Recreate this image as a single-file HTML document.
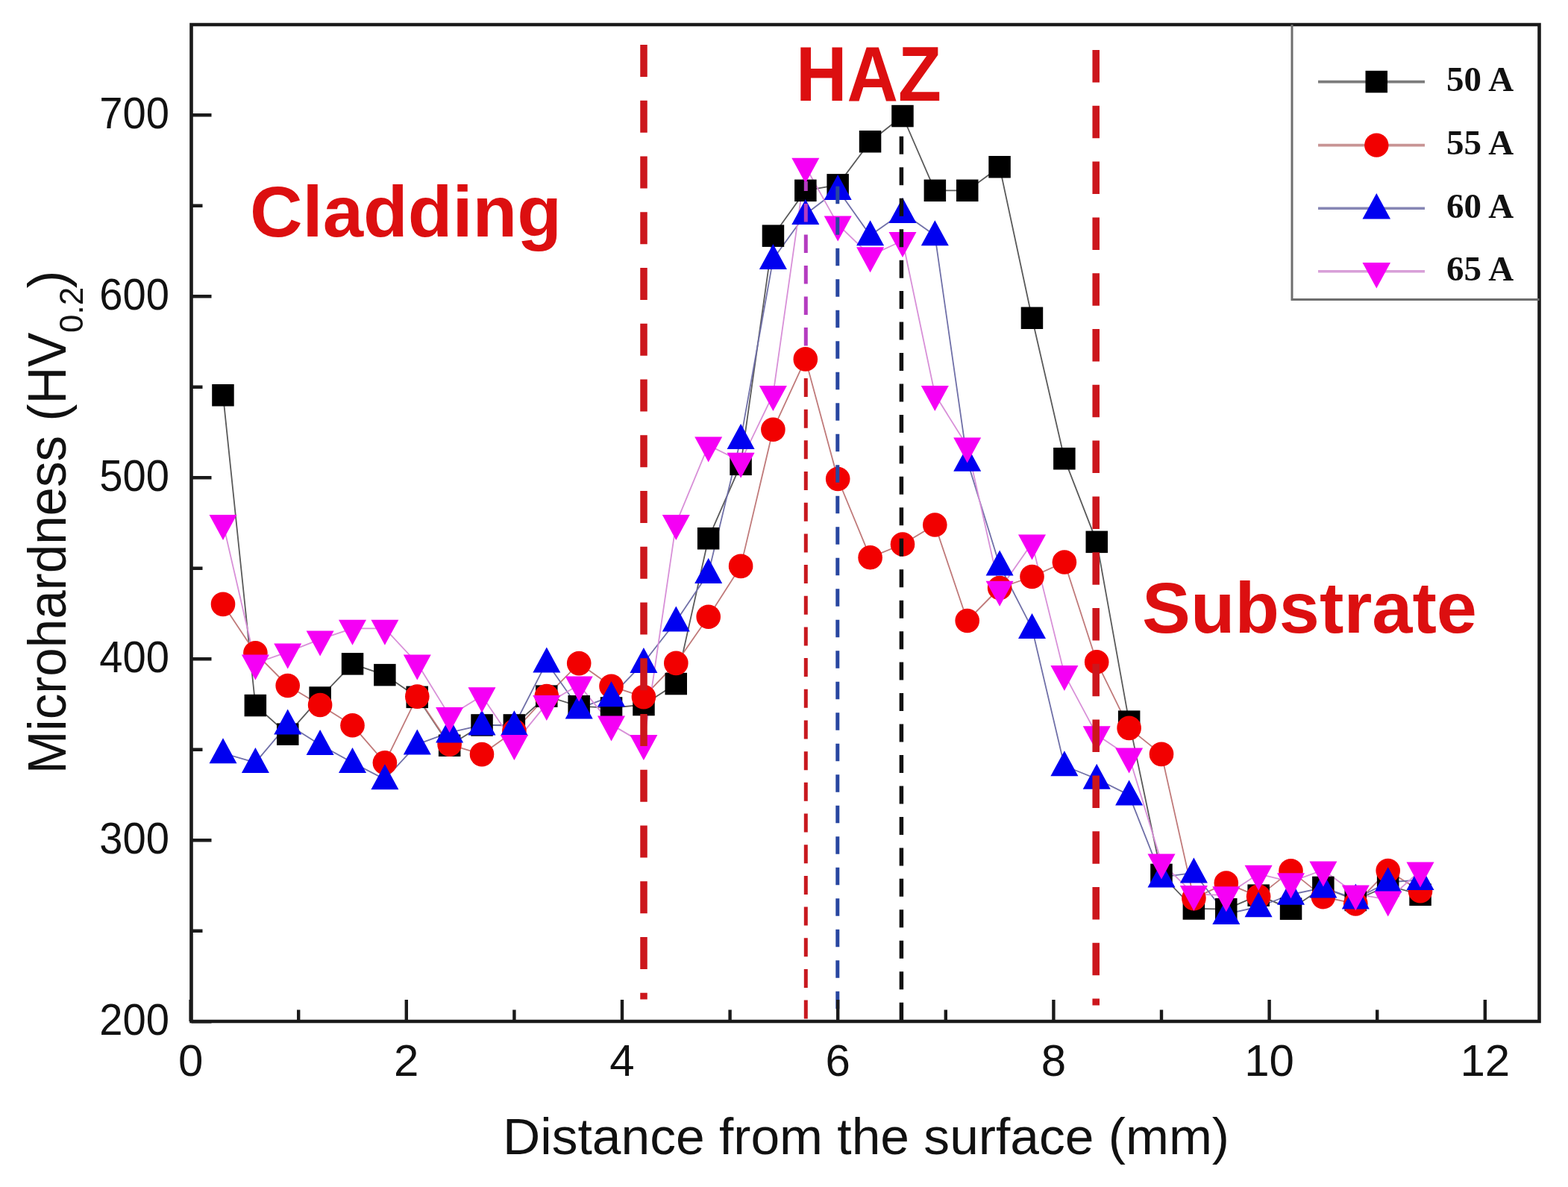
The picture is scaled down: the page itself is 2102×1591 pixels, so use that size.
<!DOCTYPE html>
<html><head><meta charset="utf-8"><title>Microhardness profile</title>
<style>
html,body{margin:0;padding:0;background:#fff;}
body{width:2102px;height:1591px;overflow:hidden;}
svg{display:block;}
.tk{font-family:"Liberation Sans",Arial,sans-serif;font-size:60px;fill:#111;}
.ti{font-family:"Liberation Sans",Arial,sans-serif;fill:#111;}
.lg{font-family:"Liberation Serif","Times New Roman",serif;font-weight:bold;font-size:47px;fill:#111;}
.zn{font-family:"Liberation Sans",Arial,sans-serif;font-weight:bold;fill:#dc0f10;}
</style></head><body>
<svg width="2102" height="1591" viewBox="0 0 2102 1591">
<rect width="2102" height="1591" fill="#fff"/>

<text class="zn" x="335" y="316.5" font-size="97" textLength="418" lengthAdjust="spacingAndGlyphs">Cladding</text>
<text class="zn" x="1067" y="135" font-size="104" textLength="195" lengthAdjust="spacingAndGlyphs">HAZ</text>
<text class="zn" x="1531" y="848" font-size="96" textLength="449" lengthAdjust="spacingAndGlyphs">Substrate</text>
<polyline points="299.0,529.7 342.4,945.5 385.7,984.1 429.1,935.1 472.5,889.9 515.9,904.7 559.3,934.3 602.6,999.2 646.0,972.0 689.4,972.0 732.8,933.1 776.2,946.7 819.5,948.9 862.9,944.5 906.3,916.6 949.7,721.7 993.1,622.3 1036.4,316.1 1079.8,255.4 1123.2,247.9 1166.6,189.8 1210.0,155.5 1253.3,255.4 1296.7,255.4 1340.1,223.8 1383.5,426.2 1426.9,614.8 1470.2,726.3 1513.6,967.1 1557.0,1172.5 1600.4,1217.9 1643.8,1218.6 1687.1,1200.2 1730.5,1218.2 1773.9,1189.5 1817.3,1206.5 1860.7,1187.0 1904.0,1199.2" fill="none" stroke="#5a5a5a" stroke-width="1.8" stroke-linejoin="round"/>
<polyline points="299.0,809.9 342.4,875.3 385.7,919.0 429.1,945.0 472.5,972.2 515.9,1022.3 559.3,933.6 602.6,997.8 646.0,1011.1 689.4,980.0 732.8,933.1 776.2,889.1 819.5,919.8 862.9,934.1 906.3,888.9 949.7,826.7 993.1,758.9 1036.4,575.7 1079.8,481.4 1123.2,642.0 1166.6,747.2 1210.0,729.5 1253.3,703.5 1296.7,832.0 1340.1,788.0 1383.5,773.0 1426.9,753.5 1470.2,887.2 1513.6,975.9 1557.0,1010.9 1600.4,1204.1 1643.8,1183.6 1687.1,1201.6 1730.5,1167.4 1773.9,1202.1 1817.3,1211.4 1860.7,1167.1 1904.0,1194.3" fill="none" stroke="#c07a7a" stroke-width="1.8" stroke-linejoin="round"/>
<polyline points="299.0,1009.5 342.4,1022.1 385.7,970.8 429.1,998.3 472.5,1022.1 515.9,1044.5 559.3,997.6 602.6,981.8 646.0,971.8 689.4,972.5 732.8,887.7 776.2,949.7 819.5,933.4 862.9,888.2 906.3,832.8 949.7,768.2 993.1,588.3 1036.4,347.3 1079.8,287.3 1123.2,254.2 1166.6,315.4 1210.0,285.1 1253.3,315.4 1296.7,618.0 1340.1,757.7 1383.5,842.3 1426.9,1026.5 1470.2,1044.0 1513.6,1065.6 1557.0,1175.7 1600.4,1169.8 1643.8,1225.2 1687.1,1215.5 1730.5,1199.0 1773.9,1189.8 1817.3,1204.8 1860.7,1182.5 1904.0,1179.3" fill="none" stroke="#7070a8" stroke-width="1.8" stroke-linejoin="round"/>
<polyline points="299.0,701.4 342.4,889.0 385.7,873.9 429.1,856.9 472.5,842.3 515.9,842.3 559.3,889.0 602.6,959.4 646.0,932.7 689.4,996.6 732.8,943.4 776.2,917.9 819.5,971.1 862.9,996.6 906.3,701.6 949.7,596.9 993.1,618.3 1036.4,528.6 1079.8,223.2 1123.2,300.9 1166.6,342.7 1210.0,322.5 1253.3,528.6 1296.7,598.1 1340.1,790.3 1383.5,728.1 1426.9,903.6 1470.2,984.7 1513.6,1014.1 1557.0,1156.0 1600.4,1198.6 1643.8,1199.8 1687.1,1171.3 1730.5,1181.8 1773.9,1166.0 1817.3,1198.1 1860.7,1205.9 1904.0,1167.0" fill="none" stroke="#d890d8" stroke-width="1.8" stroke-linejoin="round"/>
<g><rect x="284.2" y="515.0" width="29.5" height="29.5" fill="#000000"/><rect x="327.6" y="930.8" width="29.5" height="29.5" fill="#000000"/><rect x="371.0" y="969.4" width="29.5" height="29.5" fill="#000000"/><rect x="414.4" y="920.3" width="29.5" height="29.5" fill="#000000"/><rect x="457.8" y="875.1" width="29.5" height="29.5" fill="#000000"/><rect x="501.1" y="889.9" width="29.5" height="29.5" fill="#000000"/><rect x="544.5" y="919.6" width="29.5" height="29.5" fill="#000000"/><rect x="587.9" y="984.5" width="29.5" height="29.5" fill="#000000"/><rect x="631.3" y="957.2" width="29.5" height="29.5" fill="#000000"/><rect x="674.6" y="957.2" width="29.5" height="29.5" fill="#000000"/><rect x="718.0" y="918.4" width="29.5" height="29.5" fill="#000000"/><rect x="761.4" y="932.0" width="29.5" height="29.5" fill="#000000"/><rect x="804.8" y="934.2" width="29.5" height="29.5" fill="#000000"/><rect x="848.2" y="929.8" width="29.5" height="29.5" fill="#000000"/><rect x="891.5" y="901.8" width="29.5" height="29.5" fill="#000000"/><rect x="934.9" y="707.0" width="29.5" height="29.5" fill="#000000"/><rect x="978.3" y="607.6" width="29.5" height="29.5" fill="#000000"/><rect x="1021.7" y="301.4" width="29.5" height="29.5" fill="#000000"/><rect x="1065.1" y="240.6" width="29.5" height="29.5" fill="#000000"/><rect x="1108.4" y="233.1" width="29.5" height="29.5" fill="#000000"/><rect x="1151.8" y="175.0" width="29.5" height="29.5" fill="#000000"/><rect x="1195.2" y="140.8" width="29.5" height="29.5" fill="#000000"/><rect x="1238.6" y="240.6" width="29.5" height="29.5" fill="#000000"/><rect x="1282.0" y="240.6" width="29.5" height="29.5" fill="#000000"/><rect x="1325.3" y="209.0" width="29.5" height="29.5" fill="#000000"/><rect x="1368.7" y="411.5" width="29.5" height="29.5" fill="#000000"/><rect x="1412.1" y="600.0" width="29.5" height="29.5" fill="#000000"/><rect x="1455.5" y="711.6" width="29.5" height="29.5" fill="#000000"/><rect x="1498.9" y="952.4" width="29.5" height="29.5" fill="#000000"/><rect x="1542.2" y="1157.7" width="29.5" height="29.5" fill="#000000"/><rect x="1585.6" y="1203.2" width="29.5" height="29.5" fill="#000000"/><rect x="1629.0" y="1203.9" width="29.5" height="29.5" fill="#000000"/><rect x="1672.4" y="1185.4" width="29.5" height="29.5" fill="#000000"/><rect x="1715.8" y="1203.4" width="29.5" height="29.5" fill="#000000"/><rect x="1759.1" y="1174.7" width="29.5" height="29.5" fill="#000000"/><rect x="1802.5" y="1191.7" width="29.5" height="29.5" fill="#000000"/><rect x="1845.9" y="1172.3" width="29.5" height="29.5" fill="#000000"/><rect x="1889.3" y="1184.5" width="29.5" height="29.5" fill="#000000"/></g>
<g><circle cx="299.0" cy="809.9" r="16.3" fill="#f20000"/><circle cx="342.4" cy="875.3" r="16.3" fill="#f20000"/><circle cx="385.7" cy="919.0" r="16.3" fill="#f20000"/><circle cx="429.1" cy="945.0" r="16.3" fill="#f20000"/><circle cx="472.5" cy="972.2" r="16.3" fill="#f20000"/><circle cx="515.9" cy="1022.3" r="16.3" fill="#f20000"/><circle cx="559.3" cy="933.6" r="16.3" fill="#f20000"/><circle cx="602.6" cy="997.8" r="16.3" fill="#f20000"/><circle cx="646.0" cy="1011.1" r="16.3" fill="#f20000"/><circle cx="689.4" cy="980.0" r="16.3" fill="#f20000"/><circle cx="732.8" cy="933.1" r="16.3" fill="#f20000"/><circle cx="776.2" cy="889.1" r="16.3" fill="#f20000"/><circle cx="819.5" cy="919.8" r="16.3" fill="#f20000"/><circle cx="862.9" cy="934.1" r="16.3" fill="#f20000"/><circle cx="906.3" cy="888.9" r="16.3" fill="#f20000"/><circle cx="949.7" cy="826.7" r="16.3" fill="#f20000"/><circle cx="993.1" cy="758.9" r="16.3" fill="#f20000"/><circle cx="1036.4" cy="575.7" r="16.3" fill="#f20000"/><circle cx="1079.8" cy="481.4" r="16.3" fill="#f20000"/><circle cx="1123.2" cy="642.0" r="16.3" fill="#f20000"/><circle cx="1166.6" cy="747.2" r="16.3" fill="#f20000"/><circle cx="1210.0" cy="729.5" r="16.3" fill="#f20000"/><circle cx="1253.3" cy="703.5" r="16.3" fill="#f20000"/><circle cx="1296.7" cy="832.0" r="16.3" fill="#f20000"/><circle cx="1340.1" cy="788.0" r="16.3" fill="#f20000"/><circle cx="1383.5" cy="773.0" r="16.3" fill="#f20000"/><circle cx="1426.9" cy="753.5" r="16.3" fill="#f20000"/><circle cx="1470.2" cy="887.2" r="16.3" fill="#f20000"/><circle cx="1513.6" cy="975.9" r="16.3" fill="#f20000"/><circle cx="1557.0" cy="1010.9" r="16.3" fill="#f20000"/><circle cx="1600.4" cy="1204.1" r="16.3" fill="#f20000"/><circle cx="1643.8" cy="1183.6" r="16.3" fill="#f20000"/><circle cx="1687.1" cy="1201.6" r="16.3" fill="#f20000"/><circle cx="1730.5" cy="1167.4" r="16.3" fill="#f20000"/><circle cx="1773.9" cy="1202.1" r="16.3" fill="#f20000"/><circle cx="1817.3" cy="1211.4" r="16.3" fill="#f20000"/><circle cx="1860.7" cy="1167.1" r="16.3" fill="#f20000"/><circle cx="1904.0" cy="1194.3" r="16.3" fill="#f20000"/></g>
<g><path d="M299.0 989.3L317.5 1023.3H280.5Z" fill="#0000f0"/><path d="M342.4 1001.9L360.9 1035.9H323.9Z" fill="#0000f0"/><path d="M385.7 950.6L404.2 984.6H367.2Z" fill="#0000f0"/><path d="M429.1 978.1L447.6 1012.1H410.6Z" fill="#0000f0"/><path d="M472.5 1001.9L491.0 1035.9H454.0Z" fill="#0000f0"/><path d="M515.9 1024.2L534.4 1058.2H497.4Z" fill="#0000f0"/><path d="M559.3 977.4L577.8 1011.4H540.8Z" fill="#0000f0"/><path d="M602.6 961.6L621.1 995.6H584.1Z" fill="#0000f0"/><path d="M646.0 951.6L664.5 985.6H627.5Z" fill="#0000f0"/><path d="M689.4 952.3L707.9 986.3H670.9Z" fill="#0000f0"/><path d="M732.8 867.5L751.3 901.5H714.3Z" fill="#0000f0"/><path d="M776.2 929.5L794.7 963.5H757.7Z" fill="#0000f0"/><path d="M819.5 913.2L838.0 947.2H801.0Z" fill="#0000f0"/><path d="M862.9 868.0L881.4 902.0H844.4Z" fill="#0000f0"/><path d="M906.3 812.6L924.8 846.6H887.8Z" fill="#0000f0"/><path d="M949.7 748.0L968.2 782.0H931.2Z" fill="#0000f0"/><path d="M993.1 568.1L1011.6 602.1H974.6Z" fill="#0000f0"/><path d="M1036.4 327.1L1054.9 361.1H1017.9Z" fill="#0000f0"/><path d="M1079.8 267.1L1098.3 301.1H1061.3Z" fill="#0000f0"/><path d="M1123.2 234.0L1141.7 268.0H1104.7Z" fill="#0000f0"/><path d="M1166.6 295.2L1185.1 329.2H1148.1Z" fill="#0000f0"/><path d="M1210.0 264.9L1228.5 298.9H1191.5Z" fill="#0000f0"/><path d="M1253.3 295.2L1271.8 329.2H1234.8Z" fill="#0000f0"/><path d="M1296.7 597.8L1315.2 631.8H1278.2Z" fill="#0000f0"/><path d="M1340.1 737.5L1358.6 771.5H1321.6Z" fill="#0000f0"/><path d="M1383.5 822.1L1402.0 856.1H1365.0Z" fill="#0000f0"/><path d="M1426.9 1006.3L1445.4 1040.3H1408.4Z" fill="#0000f0"/><path d="M1470.2 1023.8L1488.7 1057.8H1451.7Z" fill="#0000f0"/><path d="M1513.6 1045.4L1532.1 1079.4H1495.1Z" fill="#0000f0"/><path d="M1557.0 1155.5L1575.5 1189.5H1538.5Z" fill="#0000f0"/><path d="M1600.4 1149.6L1618.9 1183.6H1581.9Z" fill="#0000f0"/><path d="M1643.8 1205.0L1662.3 1239.0H1625.3Z" fill="#0000f0"/><path d="M1687.1 1195.3L1705.6 1229.3H1668.6Z" fill="#0000f0"/><path d="M1730.5 1178.8L1749.0 1212.8H1712.0Z" fill="#0000f0"/><path d="M1773.9 1169.6L1792.4 1203.6H1755.4Z" fill="#0000f0"/><path d="M1817.3 1184.6L1835.8 1218.6H1798.8Z" fill="#0000f0"/><path d="M1860.7 1162.3L1879.2 1196.3H1842.2Z" fill="#0000f0"/><path d="M1904.0 1159.1L1922.5 1193.1H1885.5Z" fill="#0000f0"/></g>
<g><path d="M280.5 689.9H317.5L299.0 723.9Z" fill="#f500f5"/><path d="M323.9 877.5H360.9L342.4 911.5Z" fill="#f500f5"/><path d="M367.2 862.4H404.2L385.7 896.4Z" fill="#f500f5"/><path d="M410.6 845.4H447.6L429.1 879.4Z" fill="#f500f5"/><path d="M454.0 830.8H491.0L472.5 864.8Z" fill="#f500f5"/><path d="M497.4 830.8H534.4L515.9 864.8Z" fill="#f500f5"/><path d="M540.8 877.5H577.8L559.3 911.5Z" fill="#f500f5"/><path d="M584.1 947.9H621.1L602.6 981.9Z" fill="#f500f5"/><path d="M627.5 921.2H664.5L646.0 955.2Z" fill="#f500f5"/><path d="M670.9 985.1H707.9L689.4 1019.1Z" fill="#f500f5"/><path d="M714.3 931.9H751.3L732.8 965.9Z" fill="#f500f5"/><path d="M757.7 906.4H794.7L776.2 940.4Z" fill="#f500f5"/><path d="M801.0 959.6H838.0L819.5 993.6Z" fill="#f500f5"/><path d="M844.4 985.1H881.4L862.9 1019.1Z" fill="#f500f5"/><path d="M887.8 690.1H924.8L906.3 724.1Z" fill="#f500f5"/><path d="M931.2 585.4H968.2L949.7 619.4Z" fill="#f500f5"/><path d="M974.6 606.8H1011.6L993.1 640.8Z" fill="#f500f5"/><path d="M1017.9 517.1H1054.9L1036.4 551.1Z" fill="#f500f5"/><path d="M1061.3 211.7H1098.3L1079.8 245.7Z" fill="#f500f5"/><path d="M1104.7 289.4H1141.7L1123.2 323.4Z" fill="#f500f5"/><path d="M1148.1 331.2H1185.1L1166.6 365.2Z" fill="#f500f5"/><path d="M1191.5 311.0H1228.5L1210.0 345.0Z" fill="#f500f5"/><path d="M1234.8 517.1H1271.8L1253.3 551.1Z" fill="#f500f5"/><path d="M1278.2 586.6H1315.2L1296.7 620.6Z" fill="#f500f5"/><path d="M1321.6 778.8H1358.6L1340.1 812.8Z" fill="#f500f5"/><path d="M1365.0 716.6H1402.0L1383.5 750.6Z" fill="#f500f5"/><path d="M1408.4 892.1H1445.4L1426.9 926.1Z" fill="#f500f5"/><path d="M1451.7 973.2H1488.7L1470.2 1007.2Z" fill="#f500f5"/><path d="M1495.1 1002.6H1532.1L1513.6 1036.6Z" fill="#f500f5"/><path d="M1538.5 1144.5H1575.5L1557.0 1178.5Z" fill="#f500f5"/><path d="M1581.9 1187.1H1618.9L1600.4 1221.1Z" fill="#f500f5"/><path d="M1625.3 1188.3H1662.3L1643.8 1222.3Z" fill="#f500f5"/><path d="M1668.6 1159.8H1705.6L1687.1 1193.8Z" fill="#f500f5"/><path d="M1712.0 1170.3H1749.0L1730.5 1204.3Z" fill="#f500f5"/><path d="M1755.4 1154.5H1792.4L1773.9 1188.5Z" fill="#f500f5"/><path d="M1798.8 1186.6H1835.8L1817.3 1220.6Z" fill="#f500f5"/><path d="M1842.2 1194.4H1879.2L1860.7 1228.4Z" fill="#f500f5"/><path d="M1885.5 1155.5H1922.5L1904.0 1189.5Z" fill="#f500f5"/></g>
<line x1="863.0" y1="60" x2="863.0" y2="1339.5" stroke="#cc161c" stroke-width="9.5" stroke-dasharray="43 31.75" stroke-dashoffset="0"/>
<line x1="1469.2" y1="67" x2="1469.2" y2="1347.5" stroke="#cc161c" stroke-width="9.5" stroke-dasharray="43.5 31.3" stroke-dashoffset="0"/>
<line x1="1080.3" y1="243" x2="1080.3" y2="470" stroke="#b43cc0" stroke-width="5" stroke-dasharray="24.5 17" stroke-dashoffset="11.6"/>
<line x1="1080.3" y1="507" x2="1080.3" y2="1368" stroke="#c8181e" stroke-width="5" stroke-dasharray="25 16.68" stroke-dashoffset="0"/>
<line x1="1122.8" y1="249.7" x2="1122.8" y2="1368" stroke="#2846a0" stroke-width="5" stroke-dasharray="23.5 18" stroke-dashoffset="0"/>
<line x1="1208.4" y1="182.8" x2="1208.4" y2="1368" stroke="#111111" stroke-width="5.5" stroke-dasharray="24 17.46" stroke-dashoffset="0"/>
<path d="M256.5 33H2063.5V1369H256.5Z" fill="none" stroke="#1a1a1a" stroke-width="4.6"/>
<path d="M255.6 1369V1340.0M400.2 1369V1353.5M544.8 1369V1340.0M689.4 1369V1353.5M834.0 1369V1340.0M978.6 1369V1353.5M1123.2 1369V1340.0M1267.8 1369V1353.5M1412.4 1369V1340.0M1557.0 1369V1353.5M1701.6 1369V1340.0M1846.2 1369V1353.5M1990.8 1369V1340.0M256.5 1369.3H283.5M256.5 1247.8H271.5M256.5 1126.3H283.5M256.5 1004.8H271.5M256.5 883.3H283.5M256.5 761.8H271.5M256.5 640.3H283.5M256.5 518.8H271.5M256.5 397.3H283.5M256.5 275.8H271.5M256.5 154.3H283.5" stroke="#1a1a1a" stroke-width="4.4" fill="none"/>
<text class="tk" x="255.6" y="1442" text-anchor="middle">0</text>
<text class="tk" x="544.8" y="1442" text-anchor="middle">2</text>
<text class="tk" x="834.0" y="1442" text-anchor="middle">4</text>
<text class="tk" x="1123.2" y="1442" text-anchor="middle">6</text>
<text class="tk" x="1412.4" y="1442" text-anchor="middle">8</text>
<text class="tk" x="1701.6" y="1442" text-anchor="middle">10</text>
<text class="tk" x="1990.8" y="1442" text-anchor="middle">12</text>
<text class="tk" x="227" y="1386.8" text-anchor="end" textLength="93.7" lengthAdjust="spacingAndGlyphs">200</text>
<text class="tk" x="227" y="1143.8" text-anchor="end" textLength="93.7" lengthAdjust="spacingAndGlyphs">300</text>
<text class="tk" x="227" y="900.8" text-anchor="end" textLength="93.7" lengthAdjust="spacingAndGlyphs">400</text>
<text class="tk" x="227" y="657.8" text-anchor="end" textLength="93.7" lengthAdjust="spacingAndGlyphs">500</text>
<text class="tk" x="227" y="414.8" text-anchor="end" textLength="93.7" lengthAdjust="spacingAndGlyphs">600</text>
<text class="tk" x="227" y="171.8" text-anchor="end" textLength="93.7" lengthAdjust="spacingAndGlyphs">700</text>
<text class="ti" x="674" y="1546.5" font-size="69" textLength="974" lengthAdjust="spacingAndGlyphs">Distance from the surface (mm)</text>
<g transform="translate(87.5,1037.3) rotate(-90)"><text class="ti" font-size="72" textLength="591.8" lengthAdjust="spacingAndGlyphs">Microhardness (HV</text></g>
<g transform="translate(110.5,446) rotate(-90)"><text class="ti" font-size="44">0.2</text></g>
<g transform="translate(87.5,386.5) rotate(-90)"><text class="ti" font-size="72">)</text></g>
<path d="M1732 33V401.5H2063.5" fill="none" stroke="#6e6e6e" stroke-width="3"/>
<line x1="1767" y1="109.6" x2="1910" y2="109.6" stroke="#7c7c7c" stroke-width="3.6"/>
<rect x="1830.5" y="94.8" width="29.5" height="29.5" fill="#000000"/>
<text class="lg" x="1939" y="122.1">50 A</text>
<line x1="1767" y1="194.6" x2="1910" y2="194.6" stroke="#c89494" stroke-width="3.6"/>
<circle cx="1845.3" cy="194.6" r="16.2" fill="#f20000"/>
<text class="lg" x="1939" y="207.1">55 A</text>
<line x1="1767" y1="279.3" x2="1910" y2="279.3" stroke="#8686b4" stroke-width="3.6"/>
<path d="M1845.3 258.9L1864.0 293.4H1826.5Z" fill="#0000f0"/>
<text class="lg" x="1939" y="291.8">60 A</text>
<line x1="1767" y1="363.8" x2="1910" y2="363.8" stroke="#d8a0d8" stroke-width="3.6"/>
<path d="M1826.5 352.1H1864.0L1845.3 386.6Z" fill="#f500f5"/>
<text class="lg" x="1939" y="376.3">65 A</text>
</svg>
</body></html>
